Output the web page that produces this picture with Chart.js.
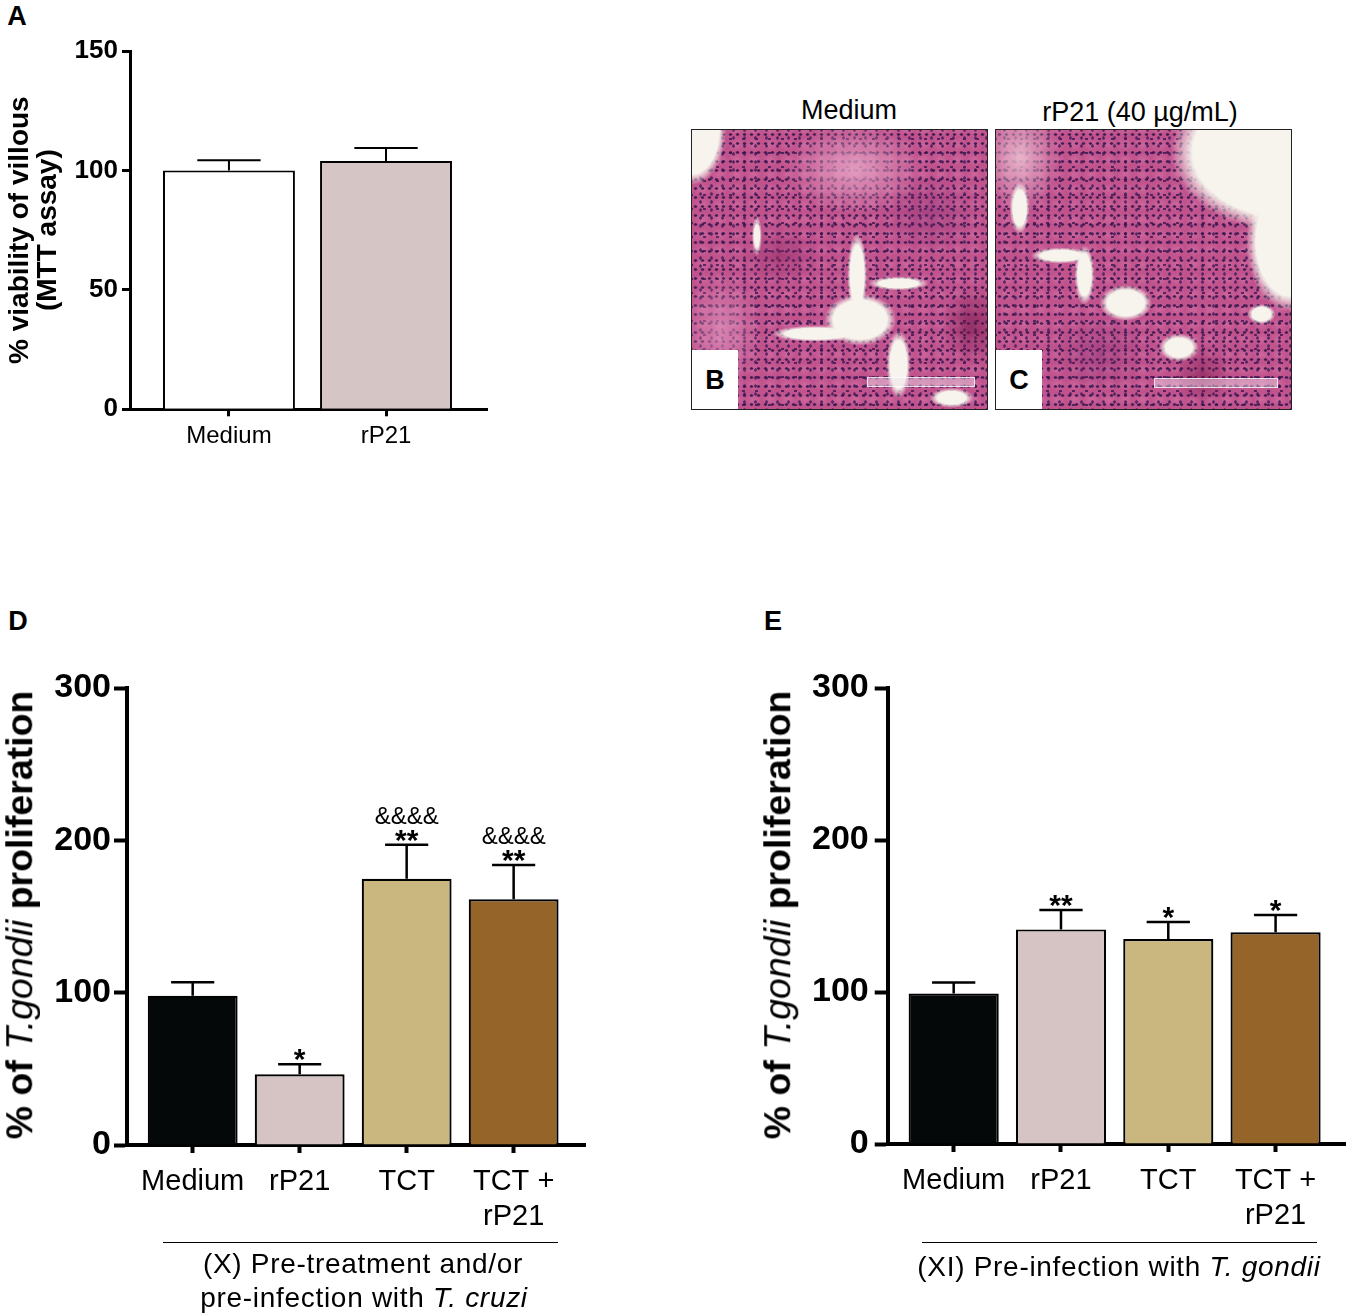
<!DOCTYPE html>
<html><head><meta charset="utf-8">
<script src="https://cdn.jsdelivr.net/npm/chart.js@4.4.1/dist/chart.umd.min.js"></script>
<style>
html,body{margin:0;padding:0;background:#fff;}
#page{position:relative;width:1347px;height:1315px;overflow:hidden;font-family:'Liberation Sans',Arial,Helvetica,sans-serif;color:#000;background:#fff;}
canvas{position:absolute;}
.t{position:absolute;white-space:nowrap;line-height:1;}
.c{transform:translate(-50%,-50%);}
.rot{transform:translate(-50%,-50%) rotate(-90deg);}
.letter{font-weight:bold;font-size:27px;}
.ytitle{font-weight:bold;font-size:37.5px;}
.ytitle i{font-weight:normal;}
.sub{font-size:28px;letter-spacing:0.7px;}
.rule{position:absolute;height:1.3px;background:#000;}
.micro{position:absolute;top:129px;width:297px;height:281px;border:1.5px solid #222;box-sizing:border-box;overflow:hidden;background-color:#c0528c;}
.tag{position:absolute;left:0;top:220px;width:46px;height:60px;background:#fff;font-weight:bold;font-size:27px;line-height:60px;text-align:center;}
.sbar{position:absolute;height:8px;border:1px solid rgba(255,255,255,0.75);background:rgba(235,225,235,0.45);}
#microB{left:691px;
 background-image:
  radial-gradient(ellipse 34px 55px at 0% 0%, #f6f4ec 0 80%, rgba(246,244,236,0) 100%),
  radial-gradient(ellipse 36px 26px at 57% 68%, #f6f4ec 0 75%, rgba(246,244,236,0) 100%),
  radial-gradient(ellipse 10px 42px at 56% 52%, #f6f4ec 0 70%, rgba(246,244,236,0) 100%),
  radial-gradient(ellipse 44px 8px at 42% 73%, #f6f4ec 0 70%, rgba(246,244,236,0) 100%),
  radial-gradient(ellipse 12px 34px at 70% 84%, #f6f4ec 0 70%, rgba(246,244,236,0) 100%),
  radial-gradient(ellipse 30px 7px at 70% 55%, #f6f4ec 0 65%, rgba(246,244,236,0) 100%),
  radial-gradient(ellipse 22px 10px at 88% 96%, #f6f4ec 0 65%, rgba(246,244,236,0) 100%),
  radial-gradient(ellipse 5px 20px at 22% 38%, #f6f4ec 0 55%, rgba(246,244,236,0) 100%),
  radial-gradient(ellipse 70px 45px at 55% 14%, rgba(232,168,200,0.85) 0, rgba(232,168,200,0) 100%),
  radial-gradient(ellipse 40px 60px at 10% 72%, rgba(226,150,190,0.7) 0, rgba(226,150,190,0) 100%),
  radial-gradient(ellipse 30px 40px at 95% 70%, rgba(110,20,70,0.6) 0, rgba(110,20,70,0) 100%),
  radial-gradient(ellipse 40px 30px at 30% 45%, rgba(140,40,100,0.5) 0, rgba(140,40,100,0) 100%),
  radial-gradient(ellipse 50px 40px at 80% 30%, rgba(120,40,110,0.35) 0, rgba(120,40,110,0) 100%),
  radial-gradient(ellipse 2.2px 1.5px, rgba(55,22,75,0.9) 0 60%, rgba(55,22,75,0) 100%),
  radial-gradient(ellipse 1.6px 2.2px, rgba(70,30,95,0.85) 0 60%, rgba(70,30,95,0) 100%),
  radial-gradient(ellipse 2px 1.4px, rgba(60,20,80,0.8) 0 60%, rgba(60,20,80,0) 100%),
  radial-gradient(ellipse 9px 7px, rgba(230,140,185,0.35) 0, rgba(230,140,185,0) 100%);
 background-size:100% 100%,100% 100%,100% 100%,100% 100%,100% 100%,100% 100%,100% 100%,100% 100%,100% 100%,100% 100%,100% 100%,100% 100%,100% 100%,7px 9px,11px 8px,13px 14px,17px 15px;
 background-position:0 0,0 0,0 0,0 0,0 0,0 0,0 0,0 0,0 0,0 0,0 0,0 0,0 0,0 0,3px 4px,6px 2px,2px 7px;
 background-repeat:no-repeat,no-repeat,no-repeat,no-repeat,no-repeat,no-repeat,no-repeat,no-repeat,no-repeat,no-repeat,no-repeat,no-repeat,no-repeat,repeat,repeat,repeat,repeat;
}
#microC{left:995px;
 background-image:
  radial-gradient(ellipse 120px 80px at 100% 8%, #f6f4ec 0 82%, rgba(246,244,236,0) 100%),
  radial-gradient(ellipse 45px 70px at 100% 40%, #f6f4ec 0 78%, rgba(246,244,236,0) 100%),
  radial-gradient(ellipse 26px 18px at 44% 62%, #f6f4ec 0 72%, rgba(246,244,236,0) 100%),
  radial-gradient(ellipse 10px 30px at 30% 52%, #f6f4ec 0 68%, rgba(246,244,236,0) 100%),
  radial-gradient(ellipse 30px 8px at 22% 45%, #f6f4ec 0 68%, rgba(246,244,236,0) 100%),
  radial-gradient(ellipse 20px 14px at 62% 78%, #f6f4ec 0 68%, rgba(246,244,236,0) 100%),
  radial-gradient(ellipse 14px 10px at 90% 66%, #f6f4ec 0 68%, rgba(246,244,236,0) 100%),
  radial-gradient(ellipse 10px 26px at 8% 28%, #f6f4ec 0 68%, rgba(246,244,236,0) 100%),
  radial-gradient(ellipse 40px 55px at 8% 10%, rgba(236,190,208,0.9) 0, rgba(236,190,208,0) 100%),
  radial-gradient(ellipse 30px 30px at 70% 88%, rgba(120,25,75,0.55) 0, rgba(120,25,75,0) 100%),
  radial-gradient(ellipse 50px 40px at 35% 80%, rgba(120,40,110,0.35) 0, rgba(120,40,110,0) 100%),
  radial-gradient(ellipse 2.2px 1.5px, rgba(55,22,75,0.9) 0 60%, rgba(55,22,75,0) 100%),
  radial-gradient(ellipse 1.6px 2.2px, rgba(70,30,95,0.85) 0 60%, rgba(70,30,95,0) 100%),
  radial-gradient(ellipse 2px 1.4px, rgba(60,20,80,0.8) 0 60%, rgba(60,20,80,0) 100%),
  radial-gradient(ellipse 9px 7px, rgba(230,140,185,0.35) 0, rgba(230,140,185,0) 100%);
 background-size:100% 100%,100% 100%,100% 100%,100% 100%,100% 100%,100% 100%,100% 100%,100% 100%,100% 100%,100% 100%,100% 100%,7px 9px,11px 8px,13px 14px,17px 15px;
 background-position:0 0,0 0,0 0,0 0,0 0,0 0,0 0,0 0,0 0,0 0,0 0,0 0,3px 4px,6px 2px,2px 7px;
 background-repeat:no-repeat,no-repeat,no-repeat,no-repeat,no-repeat,no-repeat,no-repeat,no-repeat,no-repeat,no-repeat,no-repeat,repeat,repeat,repeat,repeat;
}
</style>
</head>
<body>
<div id="page">
  <div class="t c letter" style="left:17px;top:16px;">A</div>
  <div class="t c letter" style="left:18px;top:621px;">D</div>
  <div class="t c letter" style="left:773px;top:621px;">E</div>

  <canvas id="chartA"></canvas>
  <canvas id="chartD"></canvas>
  <canvas id="chartE"></canvas>

  <div class="t c" style="left:849px;top:110px;font-size:27px;">Medium</div>
  <div class="t c" style="left:1140px;top:112px;font-size:27px;">rP21 (40 µg/mL)</div>
  <div class="micro" id="microB"><div class="sbar" style="left:175px;top:247px;width:106px;"></div><div class="tag">B</div></div>
  <div class="micro" id="microC"><div class="sbar" style="left:158px;top:248px;width:122px;"></div><div class="tag">C</div></div>

  <div class="t rot ytitle" style="left:20px;top:915px;">% of <i>T.gondii</i> proliferation</div>
  <div class="t rot ytitle" style="left:778px;top:915px;">% of <i>T.gondii</i> proliferation</div>

  <div class="rule" style="left:163px;top:1242px;width:395px;"></div>
  <div class="t c sub" style="left:363px;top:1264px;">(X) Pre-treatment and/or</div>
  <div class="t c sub" style="left:364px;top:1298px;">pre-infection with <i>T. cruzi</i></div>
  <div class="rule" style="left:922px;top:1242px;width:395px;"></div>
  <div class="t c sub" style="left:1119px;top:1267px;">(XI) Pre-infection with <i>T. gondii</i></div>
</div>

<script>
// ---- data ----
const catsA = ['Medium', 'rP21'];
const valuesA = [100, 104];
const errorsA = [4.3, 5.4];
const colorsA = ['#ffffff', '#d6c5c5'];
const yTicksA = [0, 50, 100, 150];

const catsDE = ['Medium', 'rP21', 'TCT', ['TCT +', 'rP21']];
const valuesD = [98, 46.4, 174.8, 161.3];
const errorsD = [8.8, 6.6, 22.3, 22.5];
const starsD = ['', '*', '**', '**'];
const ampsD = ['', '', '&&&&', '&&&&'];

const valuesE = [99, 141.2, 134.9, 139.3];
const errorsE = [7.2, 12.7, 11.2, 11.4];
const starsE = ['', '**', '*', '*'];
const ampsE = ['', '', '', ''];

const colorsDE = ['#050808', '#d6c4c4', '#c9b77f', '#956429'];
const yTicksDE = [0, 100, 200, 300];

// ---- rendering ----
const FONT = "'Liberation Sans', Arial, Helvetica, sans-serif";
Chart.defaults.font.family = FONT;
Chart.defaults.color = '#000';

const errPlugin = {
  id: 'errBars',
  afterDatasetsDraw(chart, args, opts) {
    const ctx = chart.ctx, ys = chart.scales.y;
    const meta = chart.getDatasetMeta(0);
    const ds = chart.data.datasets[0];
    ctx.save();
    ctx.strokeStyle = '#000';
    ctx.fillStyle = '#000';
    ctx.lineWidth = opts.lineWidth;
    meta.data.forEach((bar, i) => {
      const v = ds.data[i].y, e = opts.errors[i];
      const yTop = ys.getPixelForValue(v + e);
      const yBar = ys.getPixelForValue(v);
      const hw = bar.width * 0.24;
      ctx.beginPath();
      ctx.moveTo(bar.x, yBar);
      ctx.lineTo(bar.x, yTop);
      ctx.moveTo(bar.x - hw, yTop);
      ctx.lineTo(bar.x + hw, yTop);
      ctx.stroke();
      ctx.textAlign = 'center';
      ctx.textBaseline = 'alphabetic';
      if (opts.stars && opts.stars[i]) {
        ctx.font = opts.starFont;
        ctx.fillText(opts.stars[i], bar.x, yTop + opts.starDy);
      }
      if (opts.amps && opts.amps[i]) {
        ctx.font = opts.ampFont;
        ctx.fillText(opts.amps[i], bar.x, yTop + opts.ampDy);
      }
    });
    ctx.restore();
  }
};

function buildChart(id, o) {
  const cv = document.getElementById(id);
  cv.width = o.cw; cv.height = o.ch;
  cv.style.left = o.cx + 'px'; cv.style.top = o.cy + 'px';
  cv.style.width = o.cw + 'px'; cv.style.height = o.ch + 'px';
  const padTop = o.area.top - o.cy;
  const padRight = o.cx + o.cw - o.area.right;
  const yW = o.area.left - o.cx;
  const xH = o.cy + o.ch - o.area.bottom;
  return new Chart(cv, {
    type: 'bar',
    data: {
      datasets: [{
        data: o.values.map((v, i) => ({ x: i, y: v })),
        backgroundColor: o.colors,
        borderColor: '#000',
        borderWidth: o.barBorder,
        borderSkipped: 'start',
        barPercentage: 0.84,
        categoryPercentage: 1
      }]
    },
    options: {
      responsive: false,
      animation: false,
      devicePixelRatio: 1,
      layout: { padding: { top: padTop, right: padRight, left: 0, bottom: 0 } },
      plugins: {
        legend: { display: false },
        tooltip: { enabled: false },
        errBars: {
          errors: o.errors, lineWidth: o.errW,
          stars: o.stars, amps: o.amps,
          starFont: o.starFont, ampFont: o.ampFont,
          starDy: o.starDy, ampDy: o.ampDy
        }
      },
      scales: {
        x: {
          type: 'linear', min: o.xmin, max: o.xmax, bounds: 'data', offset: false,
          afterBuildTicks: s => { s.ticks = o.cats.map((c, i) => ({ value: i })); },
          afterFit: s => { s.height = xH; },
          ticks: {
            callback: (v) => o.cats[v],
            font: { size: o.xFont, lineHeight: o.xLine },
            color: '#000', padding: o.xPad, maxRotation: 0, minRotation: 0, autoSkip: false
          },
          grid: { offset: false, drawOnChartArea: false, drawTicks: true, tickLength: o.xTickLen, tickWidth: o.axisW, tickColor: '#000' },
          border: { display: true, width: o.axisW, color: '#000' }
        },
        y: {
          min: 0, max: o.ymax,
          afterBuildTicks: s => { s.ticks = o.yTicks.map(v => ({ value: v })); },
          afterFit: s => { s.width = yW; },
          ticks: { font: { size: o.yFont, weight: 'bold' }, color: '#000', padding: o.yPad },
          grid: { drawOnChartArea: false, drawTicks: true, tickLength: o.yTickLen, tickWidth: o.axisW, tickColor: '#000' },
          border: { display: true, width: o.axisW, color: '#000' },
          title: o.yTitle ? {
            display: true, text: o.yTitle, color: '#000',
            font: { size: o.yTitleFont, weight: 'bold', lineHeight: 1.0 },
            padding: { top: o.yTitlePad, bottom: 0 }
          } : { display: false }
        }
      }
    },
    plugins: [errPlugin]
  });
}

buildChart('chartA', {
  cx: 0, cy: 0, cw: 500, ch: 470,
  area: { left: 130, top: 51, right: 487, bottom: 409.3 },
  xmin: -0.63, xmax: 1.643, ymax: 150,
  cats: catsA, values: valuesA, errors: errorsA, colors: colorsA, yTicks: yTicksA,
  barBorder: 2, axisW: 3, errW: 2,
  xFont: 24, xLine: 1.2, xPad: 6, xTickLen: 7,
  yFont: 26, yPad: 4, yTickLen: 8,
  yTitle: ['% viability of villous', '(MTT assay)'], yTitleFont: 28, yTitlePad: 6
});

buildChart('chartD', {
  cx: 0, cy: 600, cw: 600, ch: 715,
  area: { left: 127, top: 688, right: 585, bottom: 1145 },
  xmin: -0.614, xmax: 3.667, ymax: 300,
  cats: catsDE, values: valuesD, errors: errorsD, colors: colorsDE, yTicks: yTicksDE,
  stars: starsD, amps: ampsD,
  starFont: "bold 30px " + FONT, ampFont: "24px " + FONT, starDy: 5, ampDy: -21,
  barBorder: 2.2, axisW: 4, errW: 2.5,
  xFont: 29, xLine: 1.22, xPad: 11, xTickLen: 8,
  yFont: 34, yPad: 3, yTickLen: 13
});

buildChart('chartE', {
  cx: 750, cy: 600, cw: 597, ch: 715,
  area: { left: 887.7, top: 688, right: 1345, bottom: 1144 },
  xmin: -0.615, xmax: 3.647, ymax: 300,
  cats: catsDE, values: valuesE, errors: errorsE, colors: colorsDE, yTicks: yTicksDE,
  stars: starsE, amps: ampsE,
  starFont: "bold 30px " + FONT, ampFont: "24px " + FONT, starDy: 5, ampDy: -21,
  barBorder: 2.2, axisW: 4, errW: 2.5,
  xFont: 29, xLine: 1.22, xPad: 11, xTickLen: 8,
  yFont: 34, yPad: 6, yTickLen: 13
});
</script>
</body></html>
